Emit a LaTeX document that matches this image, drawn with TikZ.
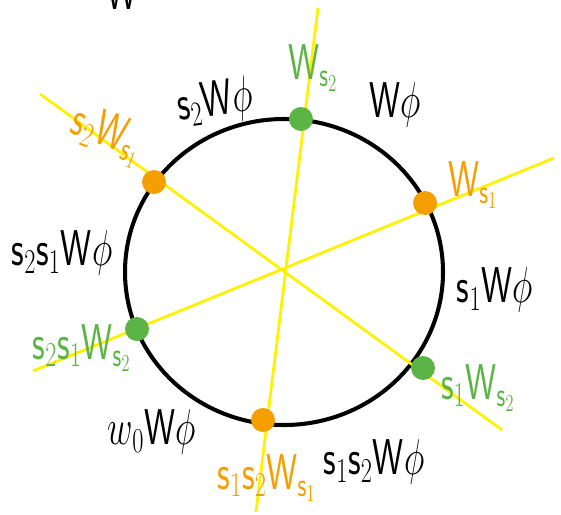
\documentclass[tikz,border=0pt]{standalone}
\usepackage{amsmath}
\usepackage{graphicx}
\definecolor{dotgreen}{RGB}{92,180,70}
\definecolor{dotorange}{RGB}{245,158,0}
\definecolor{lineyellow}{RGB}{255,242,0}
\newcommand{\hand}[1]{\scalebox{0.8}[1.15]{$#1$}}
\newcommand{\lW}{\mathsf{W}}
\newcommand{\ls}{\mathsf{s}}
\begin{document}
\begin{tikzpicture}[x=0.02cm,y=-0.02cm,
  gdot/.style={circle,fill=dotgreen,inner sep=0pt,minimum size=0.48cm},
  odot/.style={circle,fill=dotorange,inner sep=0pt,minimum size=0.48cm},
  yline/.style={lineyellow,line width=1.6pt},
  blab/.style={text=black,font=\fontsize{27}{27}\selectfont,inner sep=0pt},
  glab/.style={text=dotgreen,font=\fontsize{25}{25}\selectfont,inner sep=0pt},
  olab/.style={text=dotorange,font=\fontsize{25}{25}\selectfont,inner sep=0pt}]
\useasboundingbox (0,0) rectangle (561,514);
\clip (0,0) rectangle (561,514);
% circle
\draw[line width=2.3pt] (284,272) ellipse [x radius=159, y radius=153];
% yellow lines
\coordinate (a1) at (318,8);   \coordinate (a2) at (256,512);
\coordinate (b1) at (40,94);   \coordinate (b2) at (502,430);
\coordinate (c1) at (33,371);  \coordinate (c2) at (554,158);
\draw[yline] (a1) -- (a2);
\draw[yline] (b1) -- (b2);
\draw[yline] (c1) -- (c2);
% dots
\node[gdot] (gt) at (301,119) {};
\node[odot] (or) at (425,203) {};
\node[gdot] (gr) at (423,368) {};
\node[odot] (ob) at (263,420) {};
\node[gdot] (gl) at (137,329) {};
\node[odot] (ol) at (154,182) {};
% labels
\node[blab] (top) at (122,-8) {\hand{\lW}};
\node[blab,rotate=8] (l1) at (215,103) {\hand{\ls_2\lW\phi}};
\node[glab] (l2) at (313,68) {\hand{\lW_{\ls_2}}};
\node[blab] (l3) at (395,105) {\hand{\lW\phi}};
\node[olab] (l4) at (473,185) {\hand{\lW_{\ls_1}}};
\node[blab] (l5) at (495,290) {\hand{\ls_1\lW\phi}};
\node[glab] (l6) at (478,388) {\hand{\ls_1\lW_{\ls_2}}};
\node[blab] (l7) at (374,462) {\hand{\ls_1\ls_2\lW\phi}};
\node[olab] (l8) at (267,478) {\hand{\ls_1\ls_2\lW_{\ls_1}}};
\node[blab] (l9) at (152,432) {\hand{w_0\lW\phi}};
\node[glab] (l10) at (82,348) {\hand{\ls_2\ls_1\lW_{\ls_2}}};
\node[blab] (l11) at (62,253) {\hand{\ls_2\ls_1\lW\phi}};
\node[olab,rotate=-20] (l12) at (107,135) {\hand{\ls_2\lW_{\ls_1}}};
\end{tikzpicture}
\end{document}
